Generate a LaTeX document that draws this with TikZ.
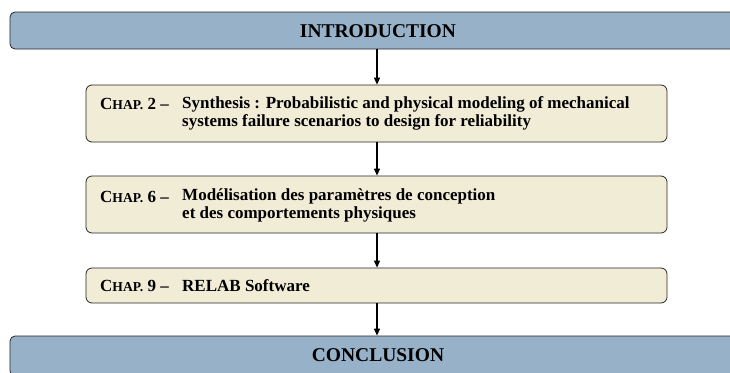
\documentclass[tikz,border=0pt]{standalone}
\usepackage{fontspec}
\setmainfont{Liberation Serif}
\usetikzlibrary{arrows.meta}
\definecolor{bluefill}{RGB}{151,177,200}
\definecolor{beige}{RGB}{241,236,214}
\newcommand{\chapsc}[1]{C{\fontsize{13.6}{15}\selectfont HAP.}~#1~--}
\begin{document}
\begin{tikzpicture}[x=1pt,y=-1pt,
  endbox/.style={draw=black!85,line width=0.8pt,fill=bluefill,rounded corners=5pt,inner sep=0pt},
  chapbox/.style={draw=black!85,line width=0.8pt,fill=beige,rounded corners=6pt,inner sep=0pt,minimum width=581pt},
  txt/.style={inner sep=0pt,anchor=west,font=\bfseries\fontsize{17}{18.5}\selectfont,align=left},
  flow/.style={-{Triangle[length=7pt,width=6pt]},line width=1.2pt}]
\useasboundingbox (0,0) rectangle (730,372);
\node[endbox,minimum width=736pt,minimum height=37pt] (intro) at (378,30.5) {};
\node[font=\bfseries\fontsize{19.5}{21}\selectfont,inner sep=0pt] (introt) at (378,31) {INTRODUCTION};
\node[chapbox,minimum height=57pt] (c2) at (376.5,113.5) {};
\node[txt] (c2a) at (100,104) {\chapsc{2}};
\node[txt] (c2b) at (182,113.5) {Synthesis : Probabilistic and physical modeling of mechanical\\systems failure scenarios to design for reliability};
\node[chapbox,minimum height=57pt] (c6) at (376.5,204.5) {};
\node[txt] (c6a) at (100,196.5) {\chapsc{6}};
\node[txt] (c6b) at (182,205.5) {Modélisation des paramètres de conception\\et des comportements physiques};
\node[chapbox,minimum height=35pt] (c9) at (376.5,285.5) {};
\node[txt] (c9a) at (100,285.5) {\chapsc{9}};
\node[txt] (c9b) at (182,285.5) {RELAB Software};
\node[endbox,minimum width=736pt,minimum height=40pt] (concl) at (378,356) {};
\node[font=\bfseries\fontsize{19.5}{21}\selectfont,inner sep=0pt] (conclt) at (378,355) {CONCLUSION};
\draw[flow] (intro.south -| 377,0) -- (c2.north -| 377,0);
\draw[flow] (c2.south -| 377,0) -- (c6.north -| 377,0);
\draw[flow] (c6.south -| 377,0) -- (c9.north -| 377,0);
\draw[flow] (c9.south -| 377,0) -- (concl.north -| 377,0);
\end{tikzpicture}
\end{document}
